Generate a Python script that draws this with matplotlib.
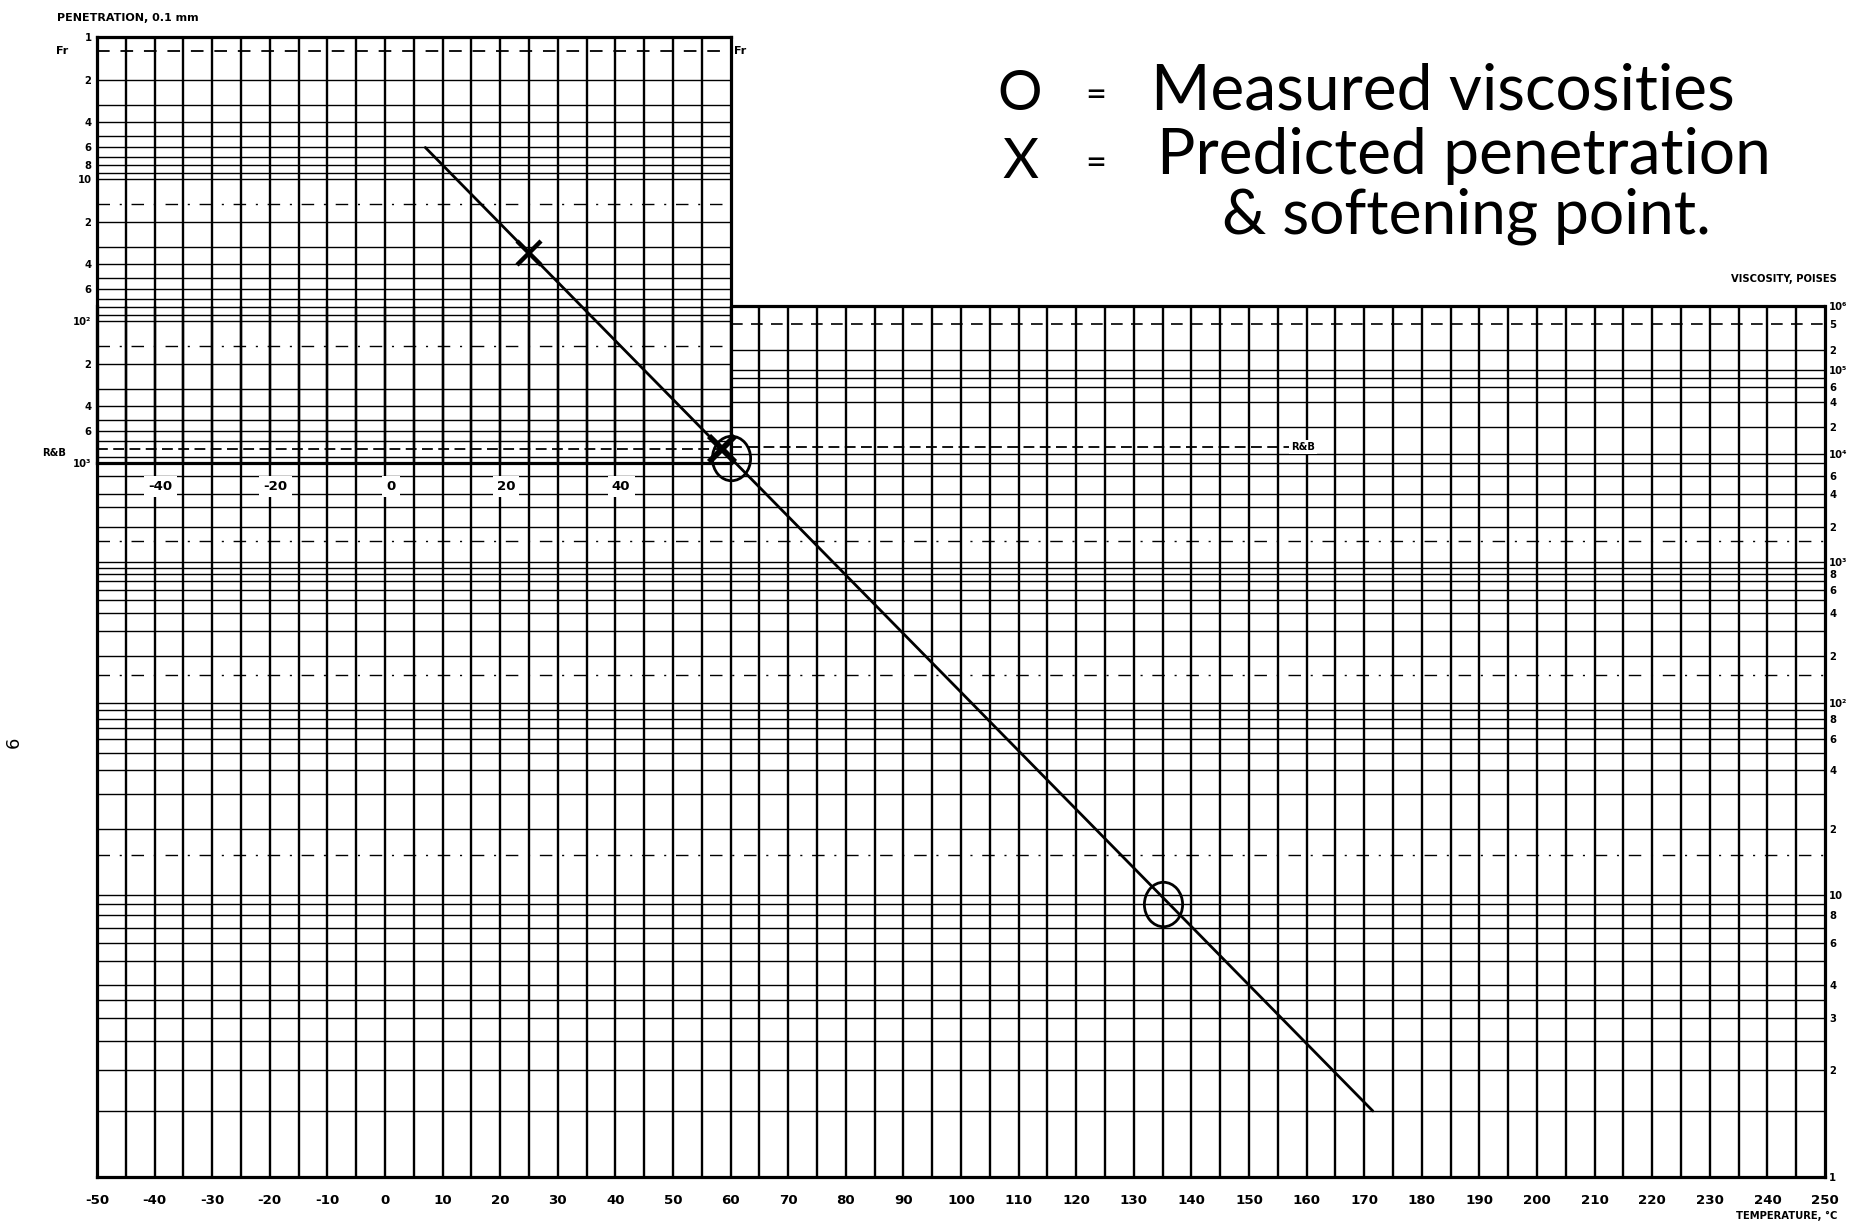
import numpy as np
import matplotlib
matplotlib.use("Agg")
import matplotlib.pyplot as plt
from matplotlib.patches import ConnectionPatch
from matplotlib.path import Path
from matplotlib import font_manager

# ---------------- data ----------------
TEMP_TICKS = list(range(-50, 251, 10))
TEMP_LABELS = [str(t) for t in TEMP_TICKS]
PEN_TEMP_TICKS = [-40, -20, 0, 20, 40]
PEN_TEMP_LABELS = ["-40", "-20", "0", "20", "40"]

PEN_TICKS = [1, 2, 4, 6, 8, 10, 20, 40, 60, 100, 200, 400, 600, 1000]
PEN_TICK_LABELS = ["1", "2", "4", "6", "8", "10", "2", "4", "6", "10²",
                   "2", "4", "6", "10³"]
PEN_GRID = [2, 3, 4, 5, 6, 7, 8, 9, 10, 20, 30, 40, 50, 60, 70, 80, 90,
            100, 200, 300, 400, 500, 600, 700, 900]
PEN_DASHDOT = [15, 150]
PEN_FRAASS = 1.25
PEN_RB = 800

VISC_TICKS = [1e6, 5e5, 2e5, 1e5, 6e4, 4e4, 2e4, 1e4, 6e3, 4e3, 2e3, 1e3,
              800, 600, 400, 200, 100, 80, 60, 40, 20, 10, 8, 6, 4, 3, 2, 1]
VISC_TICK_LABELS = ["10⁶", "5", "2", "10⁵", "6", "4", "2", "10⁴", "6", "4",
                    "2", "10³", "8", "6", "4", "2", "10²", "8", "6", "4",
                    "2", "10", "8", "6", "4", "3", "2", "1"]
VISC_GRID = [1.5, 2, 2.5, 3, 3.5, 4, 5, 6, 7, 8, 9,
             10, 20, 30, 40, 50, 60, 70, 80, 90,
             100, 200, 300, 400, 500, 600, 700, 800, 900,
             1000, 2000, 3000, 4000, 6000, 8000,
             1e4, 2e4, 4e4, 6e4, 8e4, 1e5, 2e5]
VISC_DASHDOT = [15, 150, 1500]
VISC_DASHED = [5e5]
VISC_RB = 1.2e4

LINE_TEMPS = [7, 171.5]          # ends of the drawn straight line
LINE_PEN_TOP = 6                 # penetration at upper end
LINE_VISC_BOTTOM = 1.5           # viscosity (poises) at lower end
PRED_TEMPS = [25, 58.5]          # X = predicted penetration / softening point
PRED_PENS = [33, 800]
MEAS_TEMPS = [60, 135]           # O = measured viscosities
MEAS_VISCS = [9000, 9]

NOTE_LINES = ["Measured viscosities", "Predicted penetration", "& softening point."]
NOTE_SYMBOLS = ["O", "X"]

# ---------------- chart scale calibration ----------------
W, H = 1852, 1231
DECADE_H = np.array([0, 282, 474, 615, 723, 807, 871], float)
U_KNOTS = np.log10(1.0 + np.arange(7))


def _pw(x, xs, ys):
    x = np.asarray(x, float)
    y = np.interp(x, xs, ys)
    s0 = (ys[1] - ys[0]) / (xs[1] - xs[0])
    s1 = (ys[-1] - ys[-2]) / (xs[-1] - xs[-2])
    y = np.where(x < xs[0], ys[0] + (x - xs[0]) * s0, y)
    y = np.where(x > xs[-1], ys[-1] + (x - xs[-1]) * s1, y)
    return y


def visc_fwd(v):
    v = np.asarray(v, float)
    with np.errstate(all="ignore"):
        u = np.log10(1.0 + np.log10(v))
    return _pw(u, U_KNOTS, DECADE_H)


def visc_inv(h):
    with np.errstate(all="ignore"):
        u = _pw(h, DECADE_H, U_KNOTS)
        return 10.0 ** (10.0 ** u - 1.0)


# ---------------- fonts ----------------
names = {f.name for f in font_manager.fontManager.ttflist}
if "Liberation Sans Narrow" in names:
    LBL = "Liberation Sans Narrow"
    FS = 1.0
else:
    LBL = "DejaVu Sans"
    FS = 0.8
HAND = "Lato" if "Lato" in names else "DejaVu Sans"

fig = plt.figure(figsize=(W / 100, H / 100), dpi=100)
fig.patch.set_facecolor("white")


def fx(px):
    return px / W


def fy(py):
    return 1 - py / H


# axes geometry (pixels of the reference)
X_LEFT, X_RIGHT = 97, 1825
T0, T1 = -50, 250
PX_PER_C = (X_RIGHT - X_LEFT) / (T1 - T0)
MAIN_TOP, MAIN_BOT = 306, 1177
PEN_TOP, PEN_BOT = 37, 463
PEN_T1 = 60
PEN_RIGHT = X_LEFT + (PEN_T1 - T0) * PX_PER_C

pen_ax = fig.add_axes([fx(X_LEFT), fy(PEN_BOT), (PEN_RIGHT - X_LEFT) / W,
                       (PEN_BOT - PEN_TOP) / H])
main_ax = fig.add_axes([fx(X_LEFT), fy(MAIN_BOT), (X_RIGHT - X_LEFT) / W,
                        (MAIN_BOT - MAIN_TOP) / H])
pen_ax.set_zorder(1)
main_ax.set_zorder(2)
main_ax.patch.set_alpha(0)

V_LW = 1.7
H_LW = 1.0
SP_LW = 2.3
DASHDOT = (0, (9, 7, 1.5, 7))

# ---------- penetration (upper-left) part ----------
pen_ax.set_yscale("log")
pen_ax.set_xlim(T0, PEN_T1)
pen_ax.set_ylim(1000, 1)
for t in np.arange(T0 + 5, PEN_T1, 5):
    pen_ax.axvline(t, color="k", lw=V_LW, zorder=1)
for p in PEN_GRID:
    pen_ax.axhline(p, color="k", lw=H_LW, zorder=1)
for p in PEN_DASHDOT:
    pen_ax.axhline(p, color="k", lw=H_LW, ls=DASHDOT, zorder=1)
pen_ax.axhline(PEN_FRAASS, color="k", lw=1.3, ls=(0, (7, 6)), zorder=1)
pen_ax.axhline(PEN_RB, color="k", lw=1.3, ls=(0, (6, 3)), zorder=1)
for s in pen_ax.spines.values():
    s.set_linewidth(SP_LW)
pen_ax.set_xticks([])
pen_ax.yaxis.set_minor_locator(matplotlib.ticker.NullLocator())
pen_ax.set_yticks(PEN_TICKS, PEN_TICK_LABELS)
pen_ax.tick_params(axis="y", length=0, pad=4, labelsize=9 * FS)
for lab in pen_ax.get_yticklabels():
    lab.set_fontfamily(LBL)
    lab.set_fontweight("bold")
ytr = pen_ax.get_yaxis_transform()
pen_ax.text(-0.055, PEN_FRAASS, "Fr", transform=ytr, ha="center", va="center",
            fontsize=10 * FS, family=LBL, fontweight="bold")
pen_ax.text(1.006, PEN_FRAASS, "Fr", transform=ytr, ha="left", va="center",
            fontsize=10 * FS, family=LBL, fontweight="bold")
pen_ax.text(-0.068, 850, "R&B", transform=ytr, ha="center", va="center",
            fontsize=9 * FS, family=LBL, fontweight="bold")

# ---------- viscosity (main) part ----------
main_ax.set_yscale("function", functions=(visc_fwd, visc_inv))
main_ax.set_xlim(T0, T1)
main_ax.set_ylim(1, 1e6)
for t in np.arange(T0 + 5, T1, 5):
    main_ax.axvline(t, color="k", lw=V_LW, zorder=1)
pen_bottom_h = MAIN_BOT - PEN_BOT


def hstart(v):
    return PEN_T1 if visc_fwd(v) > pen_bottom_h + 2 else T0


for v in VISC_GRID:
    main_ax.hlines(v, hstart(v), T1, color="k", lw=H_LW, zorder=1)
for v in VISC_DASHDOT:
    main_ax.hlines(v, hstart(v), T1, color="k", lw=H_LW, linestyles=[DASHDOT], zorder=1)
for v in VISC_DASHED:
    main_ax.hlines(v, hstart(v), T1, color="k", lw=1.2, linestyles=[(0, (7, 5))], zorder=1)
RB_END = 157
main_ax.hlines(VISC_RB, PEN_T1, RB_END, color="k", lw=1.3,
               linestyles=[(0, (6, 3))], zorder=1)
main_ax.text(RB_END + 0.3, VISC_RB, "R&B", ha="left", va="center",
             fontsize=9 * FS, family=LBL, fontweight="bold", zorder=3,
             bbox=dict(facecolor="white", edgecolor="none", pad=1.5))
main_ax.hlines(1e6, PEN_T1, T1, color="k", lw=SP_LW, zorder=2, clip_on=False)
main_ax.spines["top"].set_visible(False)
for k in ("left", "right", "bottom"):
    main_ax.spines[k].set_linewidth(SP_LW)

main_ax.set_xticks(TEMP_TICKS, TEMP_LABELS)
main_ax.tick_params(axis="x", length=0, pad=12, labelsize=12 * FS)
main_ax.yaxis.tick_right()
main_ax.yaxis.set_minor_locator(matplotlib.ticker.NullLocator())
main_ax.set_yticks(VISC_TICKS, VISC_TICK_LABELS)
main_ax.tick_params(axis="y", length=0, pad=3, labelsize=9 * FS)
for lab in main_ax.get_xticklabels() + main_ax.get_yticklabels():
    lab.set_fontfamily(LBL)
    lab.set_fontweight("bold")

# temperature labels of the penetration part (boxed)
LABEL_ROW_VISC = 4700
for t, s in zip(PEN_TEMP_TICKS, PEN_TEMP_LABELS):
    main_ax.text(t + 1, LABEL_ROW_VISC, s, ha="center", va="center",
                 fontsize=12 * FS, family=LBL, fontweight="bold", zorder=3,
                 bbox=dict(facecolor="white", edgecolor="none", pad=3))

# ---------- the straight line and the points ----------
con = ConnectionPatch(xyA=(LINE_TEMPS[0], LINE_PEN_TOP), coordsA=pen_ax.transData,
                      xyB=(LINE_TEMPS[1], LINE_VISC_BOTTOM), coordsB=main_ax.transData,
                      color="k", lw=2.0, zorder=6, clip_on=False)
main_ax.add_artist(con)

pen_ax.plot(PRED_TEMPS[:1], PRED_PENS[:1], ls="none", marker="x", ms=17,
            mew=3.2, color="k", zorder=6, clip_on=False)
pen_ax.plot(PRED_TEMPS[1:], PRED_PENS[1:], ls="none", marker="x", ms=19,
            mew=4.2, color="k", zorder=6, clip_on=False)

circ = Path.unit_circle()
ellipse = Path(circ.vertices * np.array([0.86, 1.0]), circ.codes)
main_ax.plot(MEAS_TEMPS, MEAS_VISCS, ls="none", marker=ellipse, ms=32,
             mfc="none", mec="k", mew=2.0, zorder=6, clip_on=False)

# ---------- axis titles ----------
fig.text(fx(57), fy(18), "PENETRATION, 0.1 mm", ha="left", va="center",
         fontsize=10 * FS, family=LBL, fontweight="bold")
fig.text(fx(1837), fy(279), "VISCOSITY, POISES", ha="right", va="center",
         fontsize=9 * FS, family=LBL, fontweight="bold")
fig.text(fx(1837), fy(1216), "TEMPERATURE, °C", ha="right", va="center",
         fontsize=9 * FS, family=LBL, fontweight="bold")
fig.text(fx(14), fy(742), "6", rotation=90, ha="center", va="center",
         fontsize=13, family="DejaVu Sans")

# ---------- handwritten legend ----------
renderer = fig.canvas.get_renderer()


def fit_text(x0, x1, y, s, size0=36, **kw):
    t = fig.text(fx(x0), fy(y), s, ha="left", va="center", fontsize=size0,
                 family=HAND, color="black", **kw)
    bb = t.get_window_extent(renderer)
    t.set_fontsize(size0 * (x1 - x0) / bb.width)
    return t


fit_text(1151, 1736, 92, NOTE_LINES[0])
fit_text(1157, 1771, 156, NOTE_LINES[1])
fit_text(1222, 1712, 216, NOTE_LINES[2])
for sym, y in zip(NOTE_SYMBOLS, [94, 162]):
    fig.text(fx(1020), fy(y), sym, ha="center", va="center", fontsize=40,
             family=HAND, color="black")
    fig.text(fx(1096), fy(y + 2), "=", ha="center", va="center", fontsize=26,
             family=HAND, color="black")

fig.savefig("out.png", dpi=100, facecolor="white")
